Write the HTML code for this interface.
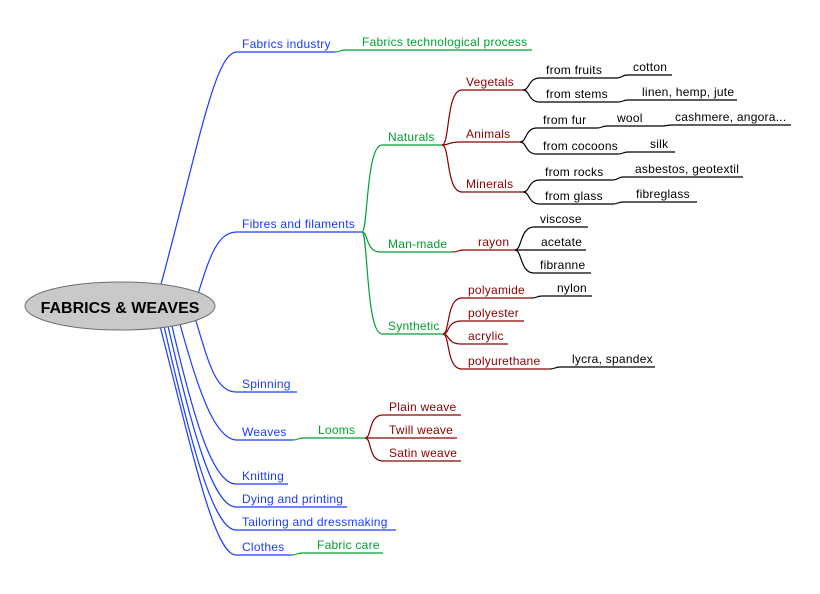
<!DOCTYPE html>
<html>
<head>
<meta charset="utf-8">
<style>
  html, body { margin:0; padding:0; background:#fff; }
  svg { display:block; }
  text { font-family:"Liberation Sans", Arial, sans-serif; font-size:12px; letter-spacing:0.25px; }
  .b { fill:#1a3cff; }
  .g { fill:#00a030; }
  .r { fill:#8b0000; }
  .k { fill:#000; }
  path { fill:none; stroke-width:1.2; }
  .lb { stroke:#1a3cff; }
  .lg { stroke:#00a030; }
  .lr { stroke:#8b0000; }
  .lk { stroke:#000; }
</style>
</head>
<body>
<svg width="820" height="594" viewBox="0 0 820 594" xmlns="http://www.w3.org/2000/svg">
  <rect width="820" height="594" fill="#fff"/>

  <!-- blue level-1 connectors -->
  <path class="lb" d="M160,288 C200,140 215,52 237,52 L335,52"/>
  <path class="lb" d="M198,294 C210,255 218,232 237,232 L362,232"/>
  <path class="lb" d="M195,318 C208,360 215,392 236,392 L297,392"/>
  <path class="lb" d="M180,324 C198,390 215,440 237,440 L293,440"/>
  <path class="lb" d="M172,326 C194,420 213,484 236,484 L288,484"/>
  <path class="lb" d="M168,326 C192,430 213,507 236,507 L347,507"/>
  <path class="lb" d="M164,326 C190,440 213,530 236,530 L396,530"/>
  <path class="lb" d="M160,326 C192,450 214,555 236,555 L292,555"/>

  <!-- green -->
  <path class="lg" d="M335,52 C340,52 340,50 345,50 L532,50"/>
  <path class="lg" d="M362,232 C368,232 366,145 382,145 L442,145"/>
  <path class="lg" d="M362,232 C368,232 366,252 380,252 L453,252"/>
  <path class="lg" d="M362,232 C368,232 366,334 382,334 L443,334"/>
  <path class="lg" d="M293,440 C298,440 298,438 303,438 L365,438"/>
  <path class="lg" d="M292,555 C297,555 297,553 302,553 L383,553"/>

  <!-- dark red -->
  <path class="lr" d="M442,145 C450,145 446,90 462,90 L523,90"/>
  <path class="lr" d="M442,145 C450,145 448,142 460,142 L520,142"/>
  <path class="lr" d="M442,145 C450,145 446,192 462,192 L523,192"/>
  <path class="lr" d="M453,252 C458,252 458,250 463,250 L515,250"/>
  <path class="lr" d="M443,334 C450,334 446,298 462,298 L532,298"/>
  <path class="lr" d="M443,334 C450,334 446,321 462,321 L524,321"/>
  <path class="lr" d="M443,334 C450,334 446,344 462,344 L508,344"/>
  <path class="lr" d="M443,334 C450,334 446,369 462,369 L550,369"/>
  <path class="lr" d="M365,438 C372,438 368,415 383,415 L461,415"/>
  <path class="lr" d="M365,438 L457,438"/>
  <path class="lr" d="M365,438 C372,438 368,461 383,461 L461,461"/>

  <!-- black -->
  <path class="lk" d="M523,90 C530,90 528,78 540,78 L617,78"/>
  <path class="lk" d="M523,90 C530,90 528,102 540,102 L618,102"/>
  <path class="lk" d="M617,78 C622,78 622,75 627,75 L672,75"/>
  <path class="lk" d="M618,102 C623,102 623,100 628,100 L737,100"/>
  <path class="lk" d="M520,142 C527,142 525,128 537,128 L597,128"/>
  <path class="lk" d="M520,142 C527,142 525,154 537,154 L618,154"/>
  <path class="lk" d="M597,128 C602,128 602,126 607,126 L662,126"/>
  <path class="lk" d="M662,126 C667,126 667,125 672,125 L791,125"/>
  <path class="lk" d="M618,154 C623,154 623,152 628,152 L675,152"/>
  <path class="lk" d="M523,192 C530,192 528,180 540,180 L613,180"/>
  <path class="lk" d="M523,192 C530,192 528,204 540,204 L613,204"/>
  <path class="lk" d="M613,180 C618,180 618,177 623,177 L743,177"/>
  <path class="lk" d="M613,204 C618,204 618,202 623,202 L697,202"/>
  <path class="lk" d="M515,250 C522,250 520,227 534,227 L588,227"/>
  <path class="lk" d="M515,250 L586,250"/>
  <path class="lk" d="M515,250 C522,250 520,273 534,273 L591,273"/>
  <path class="lk" d="M532,298 C537,298 537,296 542,296 L592,296"/>
  <path class="lk" d="M550,369 C555,369 555,367 560,367 L655,367"/>

  <!-- central node -->
  <ellipse cx="120" cy="306" rx="95" ry="24" fill="#c9c9c9" stroke="#6e6e6e" stroke-width="1"/>
  <text x="120" y="313" text-anchor="middle" style="font-size:16px;font-weight:bold;letter-spacing:0" fill="#000">FABRICS &amp; WEAVES</text>

  <!-- blue texts -->
  <text class="b" x="242" y="48">Fabrics industry</text>
  <text class="b" x="242" y="228">Fibres and filaments</text>
  <text class="b" x="242" y="388">Spinning</text>
  <text class="b" x="242" y="436">Weaves</text>
  <text class="b" x="242" y="480">Knitting</text>
  <text class="b" x="242" y="503">Dying and printing</text>
  <text class="b" x="242" y="526">Tailoring and dressmaking</text>
  <text class="b" x="242" y="551">Clothes</text>

  <!-- green texts -->
  <text class="g" x="362" y="46">Fabrics technological process</text>
  <text class="g" x="388" y="141">Naturals</text>
  <text class="g" x="388" y="248">Man-made</text>
  <text class="g" x="388" y="330">Synthetic</text>
  <text class="g" x="318" y="434">Looms</text>
  <text class="g" x="317" y="549">Fabric care</text>

  <!-- red texts -->
  <text class="r" x="466" y="86">Vegetals</text>
  <text class="r" x="466" y="138">Animals</text>
  <text class="r" x="466" y="188">Minerals</text>
  <text class="r" x="478" y="246">rayon</text>
  <text class="r" x="468" y="294">polyamide</text>
  <text class="r" x="468" y="317">polyester</text>
  <text class="r" x="468" y="340">acrylic</text>
  <text class="r" x="468" y="365">polyurethane</text>
  <text class="r" x="389" y="411">Plain weave</text>
  <text class="r" x="389" y="434">Twill weave</text>
  <text class="r" x="389" y="457">Satin weave</text>

  <!-- black texts -->
  <text class="k" x="546" y="74">from fruits</text>
  <text class="k" x="546" y="98">from stems</text>
  <text class="k" x="633" y="71">cotton</text>
  <text class="k" x="642" y="96">linen, hemp, jute</text>
  <text class="k" x="543" y="124">from fur</text>
  <text class="k" x="543" y="150">from cocoons</text>
  <text class="k" x="617" y="122">wool</text>
  <text class="k" x="675" y="121">cashmere, angora...</text>
  <text class="k" x="650" y="148">silk</text>
  <text class="k" x="545" y="176">from rocks</text>
  <text class="k" x="545" y="200">from glass</text>
  <text class="k" x="635" y="173">asbestos, geotextil</text>
  <text class="k" x="636" y="198">fibreglass</text>
  <text class="k" x="540" y="223">viscose</text>
  <text class="k" x="541" y="246">acetate</text>
  <text class="k" x="540" y="269">fibranne</text>
  <text class="k" x="557" y="292">nylon</text>
  <text class="k" x="572" y="363">lycra, spandex</text>
</svg>
</body>
</html>
